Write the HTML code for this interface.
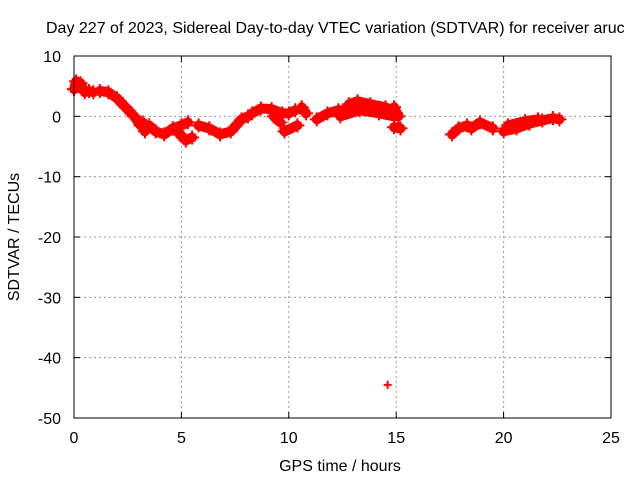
<!DOCTYPE html>
<html><head><meta charset="utf-8"><style>
body{margin:0;background:#fff}
svg{font-family:"Liberation Sans",sans-serif;font-size:16px}
</style></head><body>
<svg id="c" width="640" height="480">
<rect width="640" height="480" fill="#fff"/>
<text x="46" y="33">Day 227 of 2023, Sidereal Day-to-day VTEC variation (SDTVAR) for receiver aruc</text>
<text x="340" y="471" text-anchor="middle">GPS time / hours</text>
<text transform="translate(19,237) rotate(-90)" text-anchor="middle">SDTVAR / TECUs</text>
<g id="grid"></g><g id="data"></g>
<rect x="74" y="56" width="537" height="362" fill="none" stroke="#000"/>
</svg>
<script>
const xTicks=[0,5,10,15,20,25];
const yTicks=[10,0,-10,-20,-30,-40,-50];
const arcs=[
[[0,4.5],[0.1,5.8],[0.3,5.5],[0.5,4],[0.7,4.2],[0.9,4]],
[[1.2,4.2],[1.6,4],[2,3],[2.4,1.5],[2.8,0],[3.1,-1.5]],
[[3.2,-1],[3.3,-2.5]],
[[3.5,-1.5],[3.8,-2.5],[4.2,-3],[4.6,-2]],
[[4.6,-2],[5,-1.5],[5.3,-1]],
[[4.8,-2.5],[5.2,-4],[5.5,-3.5]],
[[5.8,-1.5],[6.3,-2],[6.8,-3],[7.3,-2.5],[7.8,-0.5],[8.1,0]],
[[8.3,0.5],[8.7,1.3],[9.2,1.2],[9.7,0.5],[10,0.5],[10.3,1]],
[[9.3,0],[9.6,-1]],
[[9.8,-2.5],[10.4,-1.5]],
[[10.6,1.5],[10.8,0.5]],
[[11.3,-0.5],[11.8,0.5],[12.3,1],[12.8,1]],
[[12.8,2],[13.2,2.5],[13.8,2],[14.5,1.5],[15,0.5]],
[[12.4,0],[13.3,1],[14.2,0.5],[14.9,0]],
[[14.9,1.5],[15.1,0]],
[[14.9,-1.8],[15.2,-2]],
[[14.6,-44.5]],
[[17.6,-3],[17.9,-2],[18.3,-1.5]],
[[18.5,-2],[18.9,-1],[19.5,-2]],
[[20,-2.5],[20.6,-2],[21.2,-1.2],[21.8,-0.7],[22.3,-0.3],[22.6,-0.5]],
[[20.2,-1.5],[21,-0.8],[21.6,-0.5]]
];
const NS='http://www.w3.org/2000/svg';
const X=h=>74+h*537/25, Y=v=>56+(10-v)*362/60;
const grid=document.getElementById('grid'), data=document.getElementById('data');
function mk(tag,attrs,parent){const e=document.createElementNS(NS,tag);for(const k in attrs)e.setAttribute(k,attrs[k]);parent.appendChild(e);return e;}
xTicks.forEach(t=>{
 if(t>0&&t<25){const l=mk('line',{x1:X(t),x2:X(t),y1:56,y2:418,stroke:'#999','stroke-dasharray':'2,3'},grid);
 
 }
 mk('line',{x1:X(t),x2:X(t),y1:418,y2:412,stroke:'#000'},grid);
 mk('line',{x1:X(t),x2:X(t),y1:56,y2:62,stroke:'#000'},grid);
 const tx=mk('text',{x:X(t),y:443,'text-anchor':'middle'},grid);tx.textContent=t;
 
 
});
yTicks.forEach(t=>{
 if(t<10&&t>-50){const l=mk('line',{x1:74,x2:611,y1:Y(t),y2:Y(t),stroke:'#999','stroke-dasharray':'2,3'},grid);
 
 }
 mk('line',{x1:74,x2:80,y1:Y(t),y2:Y(t),stroke:'#000'},grid);
 mk('line',{x1:611,x2:605,y1:Y(t),y2:Y(t),stroke:'#000'},grid);
 const tx=mk('text',{x:61,y:Y(t)+6,'text-anchor':'end'},grid);tx.textContent=t;
 
 
});
arcs.forEach(a=>{
 const g=mk('g',{},data);
 
 
 if(a.length>1){mk('polyline',{points:a.map(p=>X(p[0])+','+Y(p[1])).join(' '),fill:'none',stroke:'#f00','stroke-width':10,'stroke-linejoin':'round','stroke-linecap':'round'},g);}
 a.forEach(p=>{const x=X(p[0]),y=Y(p[1]);
  const r=a.length>1?7:4;
  const m=mk('path',{d:`M${x-r},${y}H${x+r}M${x},${y-r}V${y+r}`,stroke:'#f00','stroke-width':2},g);
  
  
 });
});
</script>
</body></html>
